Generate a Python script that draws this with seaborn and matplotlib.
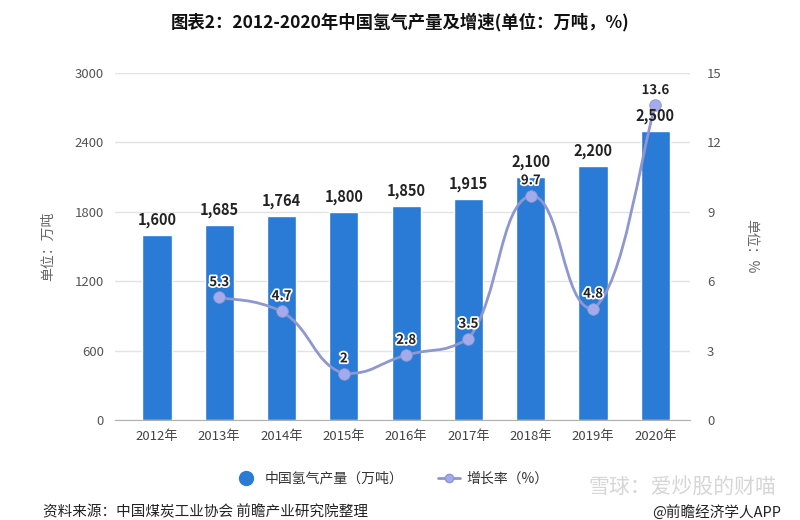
import numpy as np
import pandas as pd
import matplotlib
matplotlib.use("Agg")
import matplotlib.pyplot as plt
import matplotlib.patheffects as pe
from matplotlib.path import Path
from matplotlib.patches import PathPatch
from matplotlib.lines import Line2D
import seaborn as sns

# data
years = ["2012年", "2013年", "2014年", "2015年", "2016年", "2017年", "2018年", "2019年", "2020年"]
output = [1600, 1685, 1764, 1800, 1850, 1915, 2100, 2200, 2500]
growth = [np.nan, 5.3, 4.7, 2, 2.8, 3.5, 9.7, 4.8, 13.6]
growth_labels = ["", "5.3", "4.7", "2", "2.8", "3.5", "9.7", "4.8", "13.6"]

BAR_COLOR = "#2a7bd5"
LINE_COLOR = "#8e97cf"
DOT_COLOR = "#a3abec"


def smooth_path(xs, ys, smooth=0.5):
    """Bezier path through the points, control points clamped per segment."""
    n = len(xs)
    verts = [(xs[0], ys[0])]
    codes = [Path.MOVETO]
    for i in range(n - 1):
        p = i - 1 if i > 0 else i
        q = i + 2 if i + 2 < n else i + 1
        lo, hi = min(ys[i], ys[i + 1]), max(ys[i], ys[i + 1])
        c1x = xs[i] + (xs[i + 1] - xs[p]) * smooth / 2
        c1y = ys[i] + (ys[i + 1] - ys[p]) * smooth / 2
        c2x = xs[i + 1] - (xs[q] - xs[i]) * smooth / 2
        c2y = ys[i + 1] - (ys[q] - ys[i]) * smooth / 2
        c1y = min(max(c1y, lo), hi)
        c2y = min(max(c2y, lo), hi)
        verts += [(c1x, c1y), (c2x, c2y), (xs[i + 1], ys[i + 1])]
        codes += [Path.CURVE4] * 3
    return Path(verts, codes)


sns.set_style("white")
plt.rcParams["font.family"] = ["Noto Sans CJK SC", "DejaVu Sans"]

df = pd.DataFrame({"year": years, "output": output, "growth": growth,
                   "pos": np.arange(len(years))})

fig = plt.figure(figsize=(8, 5.2), dpi=100)
ax = fig.add_axes([0.144, 0.1923, 0.7188, 0.6673])

sns.barplot(data=df, x="year", y="output", color=BAR_COLOR, saturation=1,
            width=0.47, ax=ax)
ax.set_xlim(-0.67, 8.56)
ax.set_ylim(0, 3000)
ax.set_yticks(np.arange(0, 3001, 600))
ax.grid(axis="y", color="#e3e3e3", linewidth=1)
ax.set_axisbelow(True)
for s in ["top", "right", "left"]:
    ax.spines[s].set_visible(False)
ax.spines["bottom"].set_color("#b0b0b0")
ax.tick_params(axis="y", length=0, labelsize=9.5, colors="#555555", pad=8)
ax.tick_params(axis="x", length=4, color="#b0b0b0", labelsize=9.5,
               labelcolor="#444444", pad=3)
ax.set_xlabel("")
ax.set_ylabel("单位：万吨", fontsize=10, color="#666666", labelpad=14)

ax2 = ax.twinx()
ax2.set_ylim(0, 15)
ax2.set_yticks(np.arange(0, 16, 3))
for s in ["top", "right", "left", "bottom"]:
    ax2.spines[s].set_visible(False)
ax2.tick_params(axis="y", length=0, labelsize=9.5, colors="#555555", pad=12)
ax2.set_ylabel("单位：%", fontsize=10, color="#666666", rotation=270,
               labelpad=26)

gd = df.dropna(subset=["growth"])
path = smooth_path(gd["pos"].to_numpy(float), gd["growth"].to_numpy(float))
ax2.add_patch(PathPatch(path, facecolor="none", edgecolor=LINE_COLOR,
                        linewidth=2, zorder=3))
sns.scatterplot(data=gd, x="pos", y="growth", color=DOT_COLOR, s=70,
                edgecolor=LINE_COLOR, linewidth=0.6, zorder=4, ax=ax2,
                legend=False)
ax2.set_xlabel("")
ax2.set_xlim(-0.67, 8.56)

# bar value labels sit above the line
for i, v in enumerate(output):
    ax2.annotate(f"{v:,}", (i, v), xycoords=ax.transData, xytext=(0, 5),
                 textcoords="offset points", ha="center", va="bottom",
                 fontsize=10.5, fontweight="bold", color="#222222", zorder=5)

for i, (v, lab) in enumerate(zip(growth, growth_labels)):
    if np.isnan(v):
        continue
    ax2.annotate(lab, (i, v), xytext=(0, 6), textcoords="offset points",
                 ha="center", va="bottom", fontsize=9.5, fontweight="bold",
                 color="#222222", zorder=6,
                 path_effects=[pe.withStroke(linewidth=2.5, foreground="white")])

fig.text(0.5, 0.957, "图表2：2012-2020年中国氢气产量及增速(单位：万吨，%)",
         ha="center", va="center", fontsize=12.5, fontweight="bold",
         color="#111111")

handles = [
    Line2D([], [], marker="o", linestyle="none", markersize=10,
           markerfacecolor=BAR_COLOR, markeredgecolor=BAR_COLOR),
    Line2D([], [], marker="o", color=LINE_COLOR, linewidth=2, markersize=6,
           markerfacecolor=DOT_COLOR, markeredgecolor=LINE_COLOR),
]
fig.legend(handles, ["中国氢气产量（万吨）", "增长率（%）"], loc="center",
           bbox_to_anchor=(0.49, 0.08), ncol=2, frameon=False, fontsize=10,
           handlelength=1.6, columnspacing=2.5, handletextpad=0.5,
           labelcolor="#333333")

fig.text(0.97, 0.062, "雪球：爱炒股的财喵", ha="right", va="center",
         fontsize=15, color="#d6d6d6")
fig.text(0.054, 0.015, "资料来源：中国煤炭工业协会 前瞻产业研究院整理",
         ha="left", va="center", fontsize=10.5, color="#222222")
fig.text(0.976, 0.015, "@前瞻经济学人APP", ha="right", va="center",
         fontsize=10.5, color="#222222")

fig.savefig("out.png", dpi=100)
